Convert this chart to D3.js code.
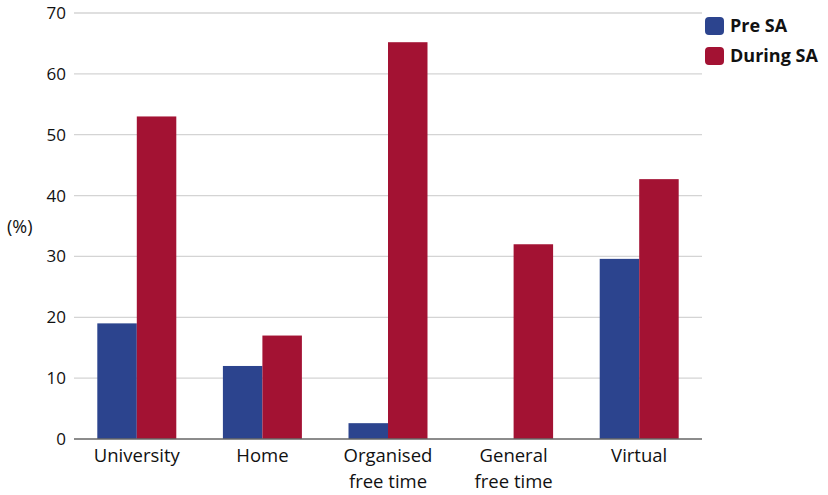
<!DOCTYPE html>
<html>
<head>
<meta charset="utf-8">
<script src="https://cdn.jsdelivr.net/npm/d3@7"></script>
<style>
  body { margin: 0; background: #fff; }
  svg { font-family: "Open Sans", "Liberation Sans", sans-serif; }
</style>
</head>
<body>
<svg id="chart" width="828" height="495"></svg>
<script>
// data
var categories = ["University", "Home", "Organised\nfree time", "General\nfree time", "Virtual"];
var seriesNames = ["Pre SA", "During SA"];
var preSA = [19, 12, 2.6, 0, 29.6];
var duringSA = [53, 17, 65.2, 32, 42.7];
var yTicks = [0, 10, 20, 30, 40, 50, 60, 70];
var colors = ["#2c448e", "#a31233"];

var margin = { top: 13, left: 74, right: 126, bottom: 56 };
var width = 828 - margin.left - margin.right,
    height = 495 - margin.top - margin.bottom;

var svg = d3.select("#chart");
var g = svg.append("g").attr("transform", "translate(" + margin.left + "," + margin.top + ")");

var x0 = d3.scaleBand().domain(categories).range([0, width]).padding(0);
var x1 = d3.scaleBand().domain(seriesNames).range([0, x0.bandwidth()]).paddingInner(0).paddingOuter(0.59);
var y = d3.scaleLinear().domain([0, 70]).range([height, 0]);

// gridlines
g.selectAll(".grid").data(yTicks.slice(1)).enter().append("line")
  .attr("x1", 0).attr("x2", width)
  .attr("y1", function (d) { return y(d); }).attr("y2", function (d) { return y(d); })
  .attr("stroke", "#d4d4d4").attr("stroke-width", 1.3);

// y tick labels
g.selectAll(".ytick").data(yTicks).enter().append("text")
  .attr("x", -8).attr("y", function (d) { return y(d); })
  .attr("dy", "0.35em").attr("text-anchor", "end")
  .attr("font-size", 17).attr("fill", "#111")
  .text(function (d) { return d; });

svg.append("text").attr("x", 7).attr("y", 233).attr("font-size", 18).attr("fill", "#111").text("(%)");

// bars
var rows = categories.map(function (c, i) {
  return { cat: c, vals: [preSA[i], duringSA[i]] };
});
var grp = g.selectAll(".grp").data(rows).enter().append("g")
  .attr("transform", function (d) { return "translate(" + x0(d.cat) + ",0)"; });
grp.selectAll("rect").data(function (d) {
  return d.vals.map(function (v, j) { return { s: seriesNames[j], v: v, j: j }; });
}).enter().append("rect")
  .attr("x", function (d) { return x1(d.s); })
  .attr("width", x1.bandwidth())
  .attr("y", function (d) { return y(d.v); })
  .attr("height", function (d) { return height - y(d.v); })
  .attr("fill", function (d) { return colors[d.j]; });

// zero axis line
g.append("line").attr("x1", 0).attr("x2", width).attr("y1", height).attr("y2", height)
  .attr("stroke", "#666").attr("stroke-width", 1.5);

// category labels
var lab = g.selectAll(".xlab").data(categories).enter().append("text")
  .attr("x", function (d) { return x0(d) + x0.bandwidth() / 2; })
  .attr("y", height + 23)
  .attr("text-anchor", "middle").attr("font-size", 18.5).attr("fill", "#111");
lab.selectAll("tspan").data(function (d) { return d.split("\n"); }).enter().append("tspan")
  .attr("x", function () { var p = this.parentNode.__data__; return x0(p) + x0.bandwidth() / 2; })
  .attr("dy", function (d, i) { return i ? 26 : 0; })
  .text(function (d) { return d; });

// legend
var leg = svg.selectAll(".leg").data(seriesNames).enter().append("g")
  .attr("transform", function (d, i) { return "translate(705," + (17 + i * 30) + ")"; });
leg.append("rect").attr("width", 19).attr("height", 18).attr("rx", 4)
  .attr("fill", function (d, i) { return colors[i]; });
leg.append("text").attr("x", 25).attr("y", 9).attr("dy", "0.35em")
  .attr("font-size", 18).attr("font-weight", "bold").attr("fill", "#111")
  .text(function (d) { return d; });
</script>
</body>
</html>
